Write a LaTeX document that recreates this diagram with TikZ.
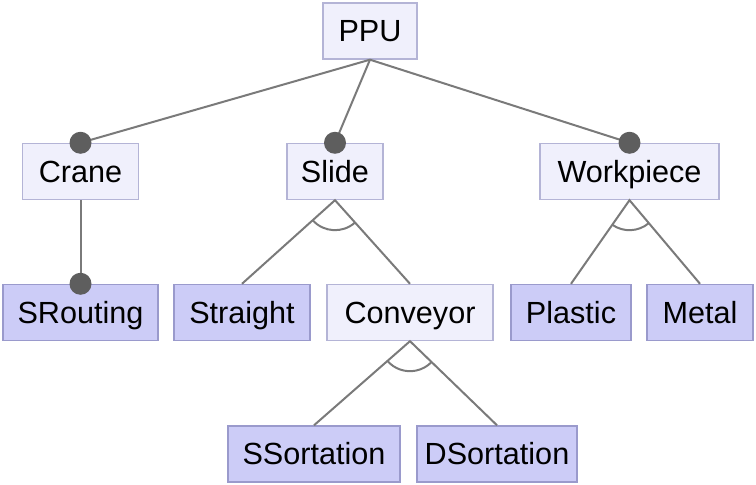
\documentclass[tikz,border=0pt]{standalone}
\usepackage{fontspec}
\setmainfont{Liberation Sans}
\usetikzlibrary{calc}
\definecolor{fmLight}{HTML}{F0F0FC}
\definecolor{fmLightLine}{HTML}{B4B4D6}
\definecolor{fmDark}{HTML}{CCCCF7}
\definecolor{fmDarkLine}{HTML}{9A9ACC}
\definecolor{fmEdge}{HTML}{7A7A7A}
\definecolor{fmDot}{HTML}{5E5E5E}
\tikzset{
  fmnode/.style={
    draw, minimum height=28pt, inner sep=0pt, line width=0.7pt,
    text height=11.5pt, text depth=0.5pt,
    font=\fontsize{15.3}{18}\selectfont
  },
  fmbox/.style={fmnode, fill=fmLight, draw=fmLightLine},
  fmleaf/.style={fmnode, fill=fmDark, draw=fmDarkLine},
  fmedge/.style={draw=fmEdge, line width=1pt},
  mandatory/.style={fill=fmDot, draw=none}
}

\begin{document}
\begin{tikzpicture}[x=0.5pt, y=-0.5pt]
  \useasboundingbox (0,0) rectangle (756,485);
  % features
  \node[fmbox, minimum width=47pt] (ppu) at (370,31) {PPU};
  \node[fmbox, minimum width=58pt] (crane) at (80.5,171.5) {Crane};
  \node[fmbox, minimum width=48pt] (slide) at (335,171.5) {Slide};
  \node[fmbox, minimum width=89.5pt] (workpiece) at (629.5,171.5) {Workpiece};
  \node[fmleaf, minimum width=77.5pt] (srouting) at (80.5,312.5) {SRouting};
  \node[fmleaf, minimum width=68pt] (straight) at (242,312.5) {Straight};
  \node[fmbox, minimum width=83pt] (conveyor) at (410,312.5) {Conveyor};
  \node[fmleaf, minimum width=60pt] (plastic) at (571,312.5) {Plastic};
  \node[fmleaf, minimum width=53pt] (metal) at (700,312.5) {Metal};
  \node[fmleaf, minimum width=86pt] (ssortation) at (314,454) {SSortation};
  \node[fmleaf, minimum width=80pt] (dsortation) at (497,454) {DSortation};

  % mandatory children
  \foreach \fp/\fc in {ppu/crane, ppu/slide, ppu/workpiece, crane/srouting} {
    \draw[fmedge] (\fp.south) -- (\fc.north);
  }
  % alternative groups
  \foreach \fp/\fa/\fb in {slide/straight/conveyor, conveyor/ssortation/dsortation, workpiece/plastic/metal} {
    \draw[fmedge] (\fa.north) -- (\fp.south) -- (\fb.north);
    \draw[fmedge] let \p1=($(\fa.north)-(\fp.south)$), \p2=($(\fb.north)-(\fp.south)$),
      \n1={atan2(\y1,\x1)}, \n2={atan2(\y2,\x2)} in
      ($(\fp.south)+(\n1:15pt)$) arc[start angle=\n1, end angle=\n2, radius=15pt];
  }
  \foreach \fc in {crane, slide, workpiece, srouting} {
    \fill[mandatory] (\fc.north) circle[radius=5.5pt];
  }
\end{tikzpicture}
\end{document}
